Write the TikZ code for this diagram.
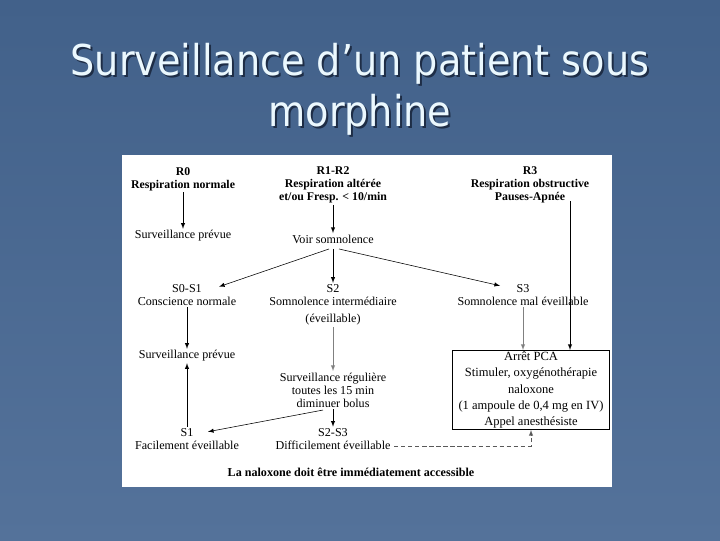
\documentclass[tikz,border=0pt]{standalone}
\usepackage{fontspec}
\setmainfont{Liberation Serif}
\newfontfamily\titlefont{DejaVu Sans Condensed}
\usetikzlibrary{calc,shapes}
\definecolor{slidetop}{RGB}{66,97,138}
\definecolor{slidebot}{RGB}{84,114,154}
\definecolor{shadowc}{RGB}{30,45,70}

\begin{document}
\begin{tikzpicture}[x=0.025cm,y=-0.025cm,>=latex,
    every node/.style={font=\fontsize{8.6}{9.3}\selectfont,align=center,inner sep=1pt},
    hd/.style={font=\bfseries\fontsize{8.4}{9.3}\selectfont},
    titre/.style={font=\titlefont\fontsize{30.2}{36}\selectfont,align=center}]
          % fond
          \useasboundingbox (0,0) rectangle (720,540);
          \shade[top color=slidetop,bottom color=slidebot] (0,0) rectangle (720,540);
          \node[titre,text=shadowc] (TitleShadow) at (362,91) {Surveillance d’un patient sous\\morphine};
          \node[titre,text=white!92!cyan] (Title) at (360,89) {Surveillance d’un patient sous\\morphine};
          \fill[white] (122,155) rectangle (612,487);
          % entrees
          \node[hd] (R0) at (183,179) {R0\\Respiration normale};
          \node[hd] (R12) at (333,185) {R1-R2\\Respiration altérée\\et/ou Fresp. < 10/min};
          \node[hd] (R3) at (530,185) {R3\\Respiration obstructive\\Pauses-Apnée};
          \node (SurvA) at (183,236) {Surveillance prévue};
          \node (Voir) at (333,239) {Voir somnolence};
          \node (S01) at (187,295) {S0-S1\\Conscience normale};
          \node (S2) at (333,305) {S2\\Somnolence intermédiaire\\[3pt](éveillable)};
          \node (S3) at (523,295) {S3\\Somnolence mal éveillable};
          \node (SurvB) at (187,356) {Surveillance prévue};
          \node (SurvC) at (333,390) {Surveillance régulière\\toutes les 15 min\\diminuer bolus};
          \node[draw,minimum width=157*0.025cm,minimum height=79*0.025cm,inner sep=1pt,
                font=\fontsize{8.9}{11.6}\selectfont] (Arret) at (531,390)
               {Arrêt PCA\\Stimuler, oxygénothérapie\\naloxone\\(1 ampoule de 0,4 mg en IV)\\Appel anesthésiste};
          \node (S1) at (187,439) {S1\\Facilement éveillable};
          \node (S23) at (333,439) {S2-S3\\Difficilement éveillable};
          \node[font=\bfseries\fontsize{8.6}{9}\selectfont] (Nalox) at (351,472) {La naloxone doit être immédiatement accessible};
          \coordinate (R3e) at (570,201);
          % fleches
          \path[->] (R0) edge (SurvA);
          \path[->] (R12) edge (Voir);
          \path[->] ($(Voir.south)+(-4,4)$) edge ($(S01.north)+(32,4)$);
          \path[->] ($(Voir.south)+(0,4)$) edge (S2.north);
          \path[->] ($(Voir.south)+(6,4)$) edge ($(S3.north)+(-23,3)$);
          \path[->] (R3e) edge (Arret.north -| R3e);
          \path[->,gray] (S3.south) edge (Arret.north -| S3.south);
          \path[->] (S01) edge (SurvB);
          \path[->,gray] (S2) edge (SurvC);
          \path[->] (S1) edge (SurvB);
          \path[->] ($(SurvC.south)+(-10,1)$) edge ($(S1.north)+(21,5)$);
          \path[->] (SurvC) edge (S23);
          \draw[->,densely dashed,gray!70!black] ($(S23.east)+(2,7)$) -| (Arret.south);
        \end{tikzpicture}
\end{document}
